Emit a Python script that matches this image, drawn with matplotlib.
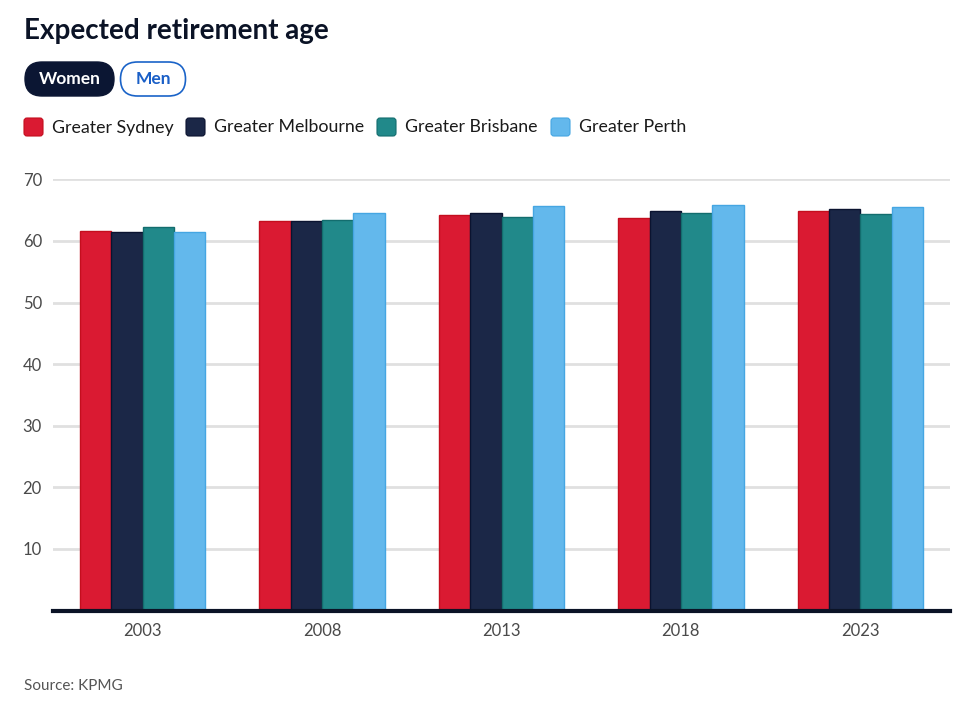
import numpy as np
import matplotlib
matplotlib.use("Agg")
import matplotlib.pyplot as plt
from matplotlib.patches import FancyBboxPatch

# Data (women)
years = ["2003", "2008", "2013", "2018", "2023"]
regions = ["Greater Sydney", "Greater Melbourne", "Greater Brisbane", "Greater Perth"]
sydney = [61.6, 63.2, 64.2, 63.7, 64.8]
melbourne = [61.4, 63.2, 64.5, 64.8, 65.1]
brisbane = [62.2, 63.4, 63.8, 64.5, 64.3]
perth = [61.4, 64.5, 65.7, 65.8, 65.5]
yticks = [10, 20, 30, 40, 50, 60, 70]

colors = ["#DA1A32", "#1B2747", "#21898A", "#63B8EC"]
edges = ["#C40E1E", "#0B1330", "#136D6E", "#45A6E2"]

plt.rcParams['font.family'] = ['Lato', 'DejaVu Sans']

W, H = 976, 709
fig = plt.figure(figsize=(W / 100, H / 100), dpi=100)

# axes placement in pixels
left, right, top, bottom = 53, 950, 179.3, 610.5
ax = fig.add_axes([left / W, 1 - bottom / H, (right - left) / W, (bottom - top) / H])

x = np.arange(len(years))
bw = 0.175
series = [sydney, melbourne, brisbane, perth]
for i, vals in enumerate(series):
    ax.bar(x + (i - 1.5) * bw, vals, width=bw, color=colors[i],
           edgecolor=edges[i], linewidth=1.0, zorder=3)

ax.set_xlim(-0.5, len(years) - 0.5)
ax.set_ylim(0, 70)
ax.set_yticks(yticks)
ax.set_xticks(x)
ax.set_xticklabels(years)
ax.tick_params(axis='both', length=0, labelsize=12, colors="#4A4A4A")
ax.tick_params(axis='y', pad=8)
ax.tick_params(axis='x', pad=9)
ax.grid(axis='y', color="#E0E0E0", linewidth=2, zorder=0)
for s in ['top', 'right', 'left']:
    ax.spines[s].set_visible(False)
ax.spines['bottom'].set_color("#0B1326")
ax.spines['bottom'].set_linewidth(3)
ax.spines['bottom'].set_zorder(4)

# overlay axes in pixel units for the header elements
ov = fig.add_axes([0, 0, 1, 1], zorder=-1)
ov.set_xlim(0, W)
ov.set_ylim(H, 0)
ov.axis('off')

ov.text(24, 31, "Expected retirement age", fontsize=20, fontweight='bold',
        color="#0B1326", va='center', ha='left')

# toggle buttons
ov.add_patch(FancyBboxPatch((25, 62), 89, 34, boxstyle="round,pad=0,rounding_size=17",
                            facecolor="#0B1633", edgecolor="#0B1633", linewidth=1))
ov.text(69.5, 79.5, "Women", fontsize=12.5, fontweight='bold', color="white",
        ha='center', va='center')
ov.add_patch(FancyBboxPatch((120.5, 62), 65, 34, boxstyle="round,pad=0,rounding_size=17",
                            facecolor="white", edgecolor="#1A63C8", linewidth=1.2))
ov.text(153, 79.5, "Men", fontsize=12.5, fontweight='bold', color="#1A5FC7",
        ha='center', va='center')

# legend
leg_x = [24, 186, 377, 551]
for i, name in enumerate(regions):
    ov.add_patch(FancyBboxPatch((leg_x[i], 118), 19, 18, boxstyle="round,pad=0,rounding_size=3",
                                facecolor=colors[i], edgecolor=edges[i], linewidth=0.8))
    ov.text(leg_x[i] + 28, 127.5, name, fontsize=12.8, color="#1A1A1A",
            ha='left', va='center')

ov.text(24, 686, "Source: KPMG", fontsize=11, color="#555555", ha='left', va='center')

fig.savefig("out.png", dpi=100)
